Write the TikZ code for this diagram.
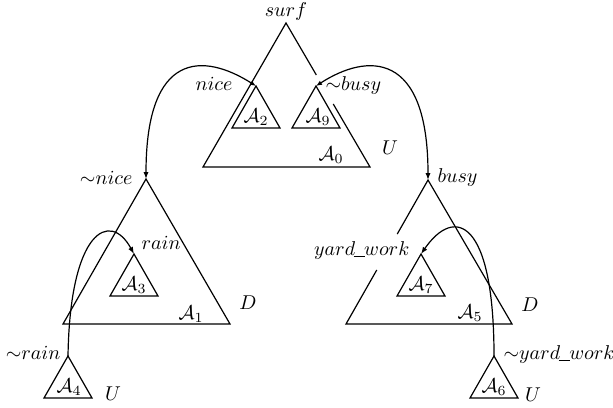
\documentclass[tikz,border=0pt]{standalone}
\usetikzlibrary{arrows.meta,calc}
\newcommand{\uscore}{\kern-0.08em\rule[-0.15ex]{0.55em}{0.4pt}\kern-0.02em}
\begin{document}
\begin{tikzpicture}[x=0.5pt,y=-0.5pt,line width=0.6pt,
  lbl/.style={inner sep=0pt},
  linkboth/.style={{Latex[length=3.5pt,width=2.6pt]}-{Latex[length=3pt,width=2.4pt]}},
  linkone/.style={-{Latex[length=3.5pt,width=2.6pt]}}]
\useasboundingbox (0,0) rectangle (613,407);
% apex coordinates
\coordinate (t0) at (286,23);
\coordinate (t0l) at (203,167);
\coordinate (t0r) at (370,167);
\coordinate (t1) at (146,179);
\coordinate (t1l) at (63,324);
\coordinate (t1r) at (230,324);
\coordinate (t5) at (428,180);
\coordinate (t5l) at (346,324);
\coordinate (t5r) at (512,324);
\coordinate (t2) at (256,86);
\coordinate (t9) at (316,86);
\coordinate (t3) at (134,254);
\coordinate (t7) at (421,254);
\coordinate (t4) at (68,356);
\coordinate (t6) at (494,356);
% big triangles
\draw ($(t0)!0.361!(t0r)$) -- (t0) -- (t0l) -- (t0r) -- ($(t0)!0.5625!(t0r)$);
\draw (t1) -- (t1l) -- (t1r) -- cycle;
\draw ($(t5)!0.375!(t5l)$) -- (t5) -- (t5r) -- (t5l) -- ($(t5)!0.625!(t5l)$);
% small triangles
\foreach \t in {t2,t9,t3,t7,t4,t6}{
  \draw (\t) -- +(-24,42) -- +(24,42) -- cycle;
}
% labels
\node[lbl,anchor=mid] (lsurf) at (286,12) {$surf$};
\node[lbl,anchor=mid east] (lnice) at (233,86) {$nice$};
\node[lbl,anchor=mid west] (lnbusy) at (325,86) {${\sim}busy$};
\node[lbl] (a2) at (256,117) {$\mathcal{A}_2$};
\node[lbl] (a9) at (318,117) {$\mathcal{A}_9$};
\node[lbl] (a0) at (331,155) {$\mathcal{A}_0$};
\node[lbl] (u0) at (390,148) {$U$};
\node[lbl,anchor=mid east] (lnnice) at (133,180) {${\sim}nice$};
\node[lbl,anchor=mid west] (lrain) at (141,245) {$rain$};
\node[lbl] (a3) at (134,285) {$\mathcal{A}_3$};
\node[lbl] (a1) at (191,314) {$\mathcal{A}_1$};
\node[lbl] (d1) at (248,303) {$D$};
\node[lbl,anchor=mid east] (lnrain) at (61,355) {${\sim}rain$};
\node[lbl] (a4) at (69,387) {$\mathcal{A}_4$};
\node[lbl] (u4) at (113,394) {$U$};
\node[lbl,anchor=mid west] (lbusy) at (437,178) {$busy$};
\node[lbl,anchor=mid east] (lyard) at (410,251) {$yard\uscore work$};
\node[lbl] (a7) at (421,285) {$\mathcal{A}_7$};
\node[lbl] (a5) at (470,313) {$\mathcal{A}_5$};
\node[lbl] (d5) at (530,305) {$D$};
\node[lbl,anchor=mid west] (lnyard) at (503,355) {${\sim}yard\uscore work$};
\node[lbl] (a6) at (494,387) {$\mathcal{A}_6$};
\node[lbl] (u6) at (533,395) {$U$};
% links
\draw[linkboth] (t1) .. controls (146,50) and (204,53) .. (t2);
\draw[linkboth] (t5) .. controls (428,50) and (367,53) .. (t9);
\draw[linkone] (t4) .. controls (70,230) and (110,210) .. (t3);
\draw[linkone] (t6) .. controls (494,220) and (455,205) .. (t7);
\end{tikzpicture}
\end{document}
